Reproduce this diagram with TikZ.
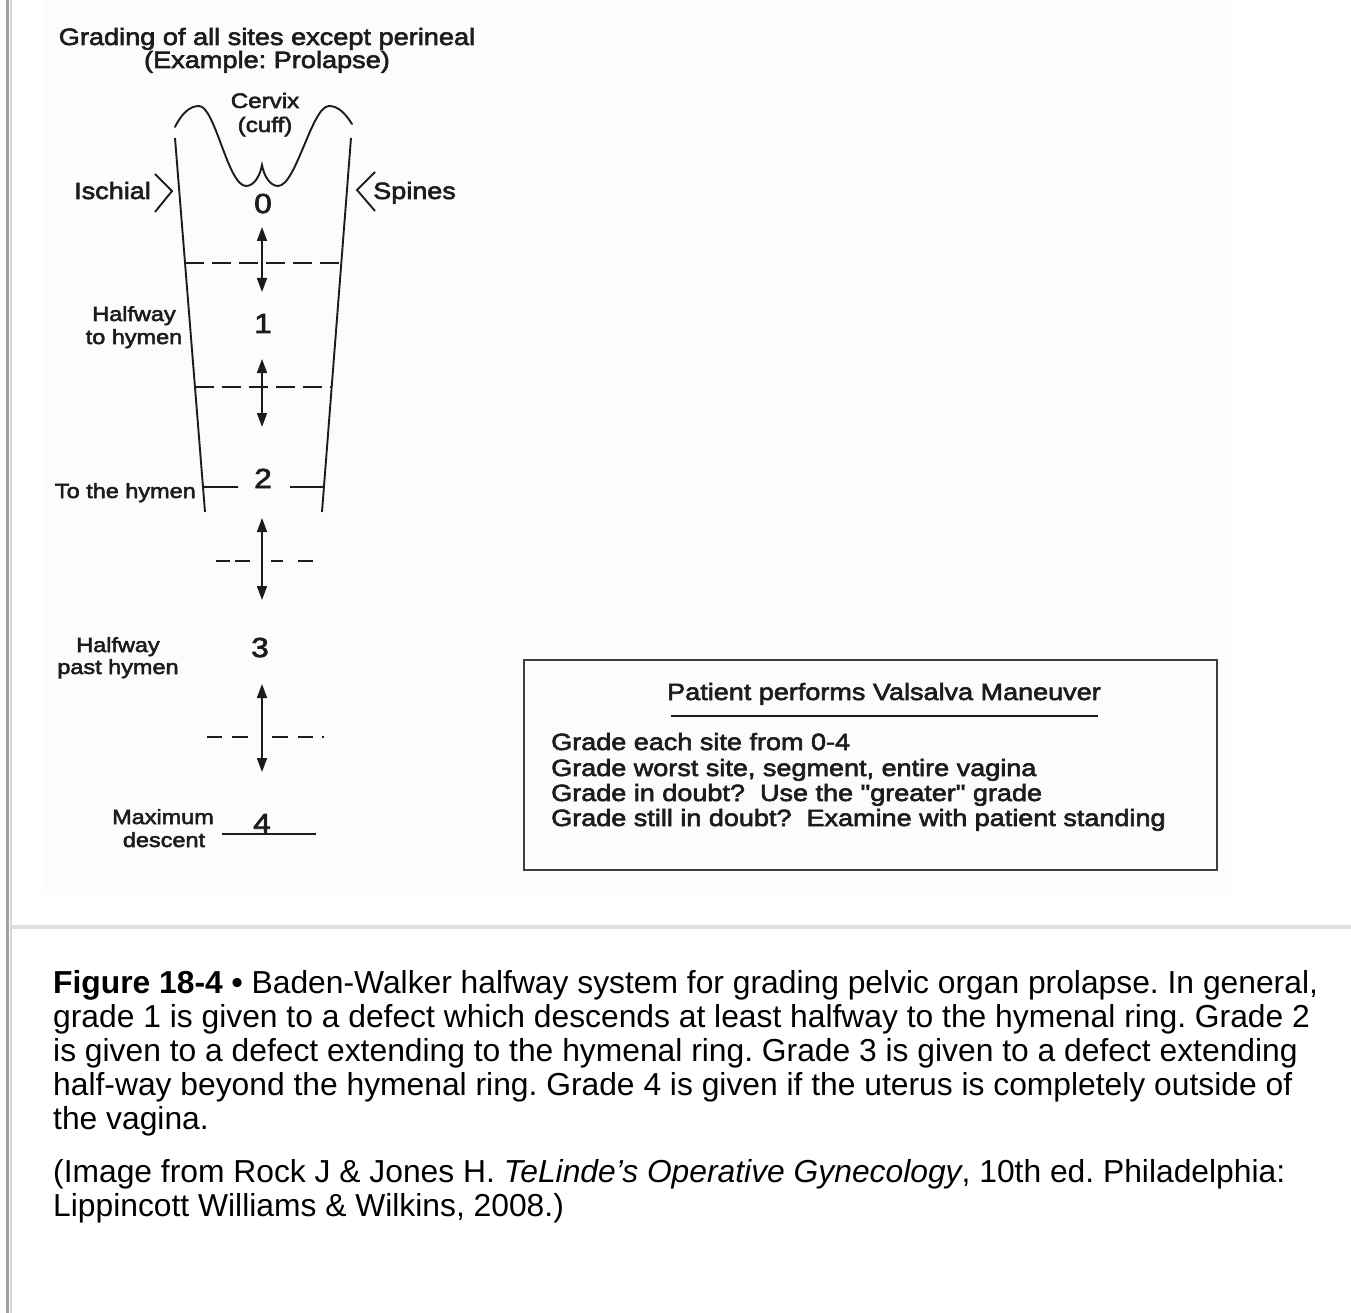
\documentclass[tikz,border=0pt]{standalone}
\usepackage{fontspec}
\setmainfont{Liberation Sans}
\newfontface\diagfont{Liberation Sans}[FakeStretch=1.15,FakeBold=2.6]
\usetikzlibrary{arrows.meta,calc}
\definecolor{ink}{RGB}{28,28,28}
\definecolor{panel}{RGB}{252,253,250}
\definecolor{rulegray}{RGB}{222,222,222}
\definecolor{edgedark}{RGB}{160,160,160}
\definecolor{edgelight}{RGB}{214,214,214}
\newcommand\fsz[1]{\fontsize{#1}{#1}\selectfont}
\frenchspacing
\begin{document}
\begin{tikzpicture}[x=1pt,y=-1pt,
  dlabel/.style={inner sep=0pt,text=ink,font=\diagfont\fsz{20.4}},
  dtitle/.style={inner sep=0pt,text=ink,font=\diagfont\fsz{23.6}},
  dnum/.style={inner sep=0pt,text=ink,font=\diagfont\fsz{27.5}},
  dbox/.style={inner sep=0pt,text=ink,font=\diagfont\fsz{23.5}},
  captext/.style={inner sep=0pt,anchor=base west,text=black,font=\fsz{31.8}},
  wall/.style={draw=ink,line width=1.9pt},
  level/.style={draw=ink,line width=1.9pt,dash pattern=on 19pt off 8pt},
  tick/.style={draw=ink,line width=1.9pt},
  travel/.style={draw=ink,line width=1.7pt,
    arrows={Triangle[length=14pt,width=10pt]-Triangle[length=14pt,width=10pt]}}]
\useasboundingbox (0,0) rectangle (1351,1313);
\fill[white] (0,0) rectangle (1351,1313);

% page frame: panel, left edge lines, separator
\fill[panel] (42,0) rectangle (1232,895);
\fill[edgedark] (6,0) rectangle (8.5,1313);
\fill[edgelight] (10,0) rectangle (12,1313);
\fill[rulegray] (12,925) rectangle (1351,929);

% ---- headings ----
\node[dtitle,anchor=base] (t1) at (267,45) {Grading of all sites except perineal};
\node[dtitle,anchor=base] (t2) at (267,68) {(Example: Prolapse)};
\node[dlabel,anchor=base,font=\diagfont\fsz{21}] (cx1) at (265,108) {Cervix};
\node[dlabel,anchor=base,font=\diagfont\fsz{21}] (cx2) at (265,132) {(cuff)};

% ---- vaginal outline ----
\coordinate (wlt) at (175,138);
\coordinate (wlb) at (205,512);
\coordinate (wrt) at (351,138);
\coordinate (wrb) at (322,512);
\draw[wall] (wlt) -- (wlb);
\draw[wall] (wrt) -- (wrb);
\draw[wall,line cap=round]
  (175,127) .. controls (182,113) and (190,106) .. (199,106)
            .. controls (215,106) and (228,186) .. (246,186)
            .. controls (254,186) and (260,176) .. (262,165)
            .. controls (264,176) and (270,186) .. (278,186)
            .. controls (296,186) and (312,106) .. (329,106)
            .. controls (338,106) and (345,113) .. (352,124);

% ischial spines
\node[dbox,anchor=base east] (isch) at (151,199) {Ischial};
\node[dbox,anchor=base west] (spin) at (373,199) {Spines};
\draw[wall,line join=miter] (155,174) -- (172,191) -- (155,212);
\draw[wall,line join=miter] (375,172) -- (357,190) -- (375,211);

% ---- grade numbers ----
\node[dnum,anchor=base] (g0) at (263,213) {0};
\node[dnum,anchor=base] (g1) at (263,333) {1};
\node[dnum,anchor=base] (g2) at (263,488) {2};
\node[dnum,anchor=base] (g3) at (260,657) {3};
\node[dnum,anchor=base] (g4) at (262,833) {4};

% ---- side labels ----
\node[dlabel,anchor=base] (h1a) at (134,321) {Halfway};
\node[dlabel,anchor=base] (h1b) at (134,344) {to hymen};
\node[dlabel,anchor=base east] (hym) at (196,498) {To the hymen};
\node[dlabel,anchor=base] (h3a) at (118,652) {Halfway};
\node[dlabel,anchor=base] (h3b) at (118,674) {past hymen};
\node[dlabel,anchor=base] (mx1) at (163,824) {Maximum};
\node[dlabel,anchor=base] (mx2) at (164,847) {descent};

% ---- level lines ----
\draw[level] ($(wlt)!0.334!(wlb)$) -- ($(wrt)!0.334!(wrb)$);
\draw[level] ($(wlt)!0.666!(wlb)$) -- ($(wrt)!0.666!(wrb)$);
\draw[wall] ($(wlt)!0.933!(wlb)$) -- (238,487);
\draw[wall] (290,487) -- ($(wrt)!0.933!(wrb)$);
% short broken levels below the hymen
\draw[tick] (216,561) -- (230,561) (235,561) -- (250,561)
            (271,561) -- (283,561) (298,561) -- (313,561);
\draw[tick] (207,737) -- (222,737) (232,737) -- (248,737)
            (272,737) -- (288,737) (298,737) -- (313,737)
            (322,737) -- (324,737);
\coordinate (l5a) at (222,834);
\coordinate (l5b) at (316,834);
\draw[wall] (l5a) -- (l5b);

% ---- travel arrows ----
\coordinate (a1t) at (262,227);  \coordinate (a1b) at (262,292);
\coordinate (a2t) at (262,359);  \coordinate (a2b) at (262,427);
\coordinate (a3t) at (262,518);  \coordinate (a3b) at (262,600);
\coordinate (a4t) at (262,684);  \coordinate (a4b) at (262,772);
\draw[travel] (a1t) -- (a1b);
\draw[travel] (a2t) -- (a2b);
\draw[travel] (a3t) -- (a3b);
\draw[travel] (a4t) -- (a4b);

% ---- instruction box ----
\draw[draw=ink!85,line width=2.4pt] (524,660) rectangle (1217,870);
\node[dbox,anchor=base] (vh) at (884,700) {Patient performs Valsalva Maneuver};
\draw[ink,line width=1.9pt] (671,716) -- (1098,716);
\node[dbox,anchor=base west] (r1) at (551,750) {Grade each site from 0-4};
\node[dbox,anchor=base west] (r2) at (551,776) {Grade worst site, segment, entire vagina};
\node[dbox,anchor=base west] (r3) at (551,801) {Grade in doubt?\ \ Use the "greater" grade};
\node[dbox,anchor=base west] (r4) at (551,826) {Grade still in doubt?\ \ Examine with patient standing};

% ---- caption ----
\node[captext] (c1) at (53,993) {\textbf{Figure 18-4 \textbullet} Baden-Walker halfway system for grading pelvic organ prolapse. In general,};
\node[captext] (c2) at (53,1027) {grade 1 is given to a defect which descends at least halfway to the hymenal ring. Grade 2};
\node[captext] (c3) at (53,1061) {is given to a defect extending to the hymenal ring. Grade 3 is given to a defect extending};
\node[captext] (c4) at (53,1095) {half-way beyond the hymenal ring. Grade 4 is given if the uterus is completely outside of};
\node[captext] (c5) at (53,1129) {the vagina.};
\node[captext] (c6) at (53,1182) {(Image from Rock J \& Jones H. \textit{TeLinde's Operative Gynecology}, 10th ed. Philadelphia:};
\node[captext] (c7) at (53,1216) {Lippincott Williams \& Wilkins, 2008.)};
\end{tikzpicture}
\end{document}
